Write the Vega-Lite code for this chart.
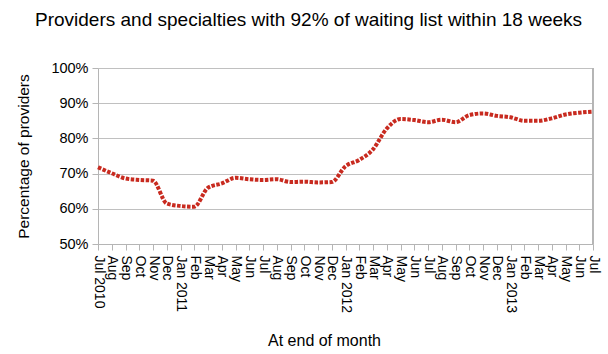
{
  "$schema": "https://vega.github.io/schema/vega-lite/v6.json",
  "width": 495,
  "height": 176,
  "autosize": {"type": "none"},
  "padding": {"left": 98, "top": 68, "right": 15, "bottom": 110},
  "background": "white",
  "title": {
    "text": "Providers and specialties with 92% of waiting list within 18 weeks",
    "font": "Liberation Sans",
    "fontSize": 19,
    "fontWeight": "normal",
    "color": "black",
    "anchor": "middle",
    "frame": "group",
    "dx": -37,
    "offset": 30
  },
  "config": {
    "view": {"stroke": null},
    "axis": {
      "labelFont": "Liberation Sans",
      "titleFont": "Liberation Sans",
      "labelColor": "black",
      "titleColor": "black",
      "domainColor": "#b5b5b5",
      "tickColor": "#b5b5b5",
      "gridColor": "#c0c0c0",
      "titleFontWeight": "normal"
    }
  },
  "data": {
    "values": [
      {"month": "Jul 2010", "pct": 71.8},
      {"month": "Aug", "pct": 70.1},
      {"month": "Sep", "pct": 68.6},
      {"month": "Oct", "pct": 68.2},
      {"month": "Nov", "pct": 68.0},
      {"month": "Dec", "pct": 61.5},
      {"month": "Jan 2011", "pct": 60.8},
      {"month": "Feb", "pct": 60.6},
      {"month": "Mar", "pct": 66.0},
      {"month": "Apr", "pct": 67.2},
      {"month": "May", "pct": 68.8},
      {"month": "Jun", "pct": 68.4},
      {"month": "Jul", "pct": 68.2},
      {"month": "Aug ", "pct": 68.4},
      {"month": "Sep ", "pct": 67.6},
      {"month": "Oct ", "pct": 67.7},
      {"month": "Nov ", "pct": 67.5},
      {"month": "Dec ", "pct": 67.6},
      {"month": "Jan 2012", "pct": 72.1},
      {"month": "Feb ", "pct": 73.9},
      {"month": "Mar ", "pct": 76.9},
      {"month": "Apr ", "pct": 82.8},
      {"month": "May ", "pct": 85.5},
      {"month": "Jun ", "pct": 85.2},
      {"month": "Jul ", "pct": 84.6},
      {"month": "Aug  ", "pct": 85.3},
      {"month": "Sep  ", "pct": 84.6},
      {"month": "Oct  ", "pct": 86.6},
      {"month": "Nov  ", "pct": 87.1},
      {"month": "Dec  ", "pct": 86.4},
      {"month": "Jan 2013", "pct": 86.0},
      {"month": "Feb  ", "pct": 85.0},
      {"month": "Mar  ", "pct": 85.0},
      {"month": "Apr  ", "pct": 85.7},
      {"month": "May  ", "pct": 86.8},
      {"month": "Jun  ", "pct": 87.3},
      {"month": "Jul  ", "pct": 87.6}
    ]
  },
  "layer": [
    {
      "mark": {"type": "rule", "color": "#b5b5b5", "strokeWidth": 1},
      "encoding": {"x": {"value": 495}}
    },
    {
      "mark": {
        "type": "line",
        "interpolate": "monotone",
        "color": "#c82a1f",
        "strokeWidth": 4,
        "strokeDash": [3.5, 1.5],
        "strokeCap": "butt"
      },
      "encoding": {
        "x": {
          "field": "month",
          "type": "ordinal",
          "sort": null,
          "scale": {"type": "point", "padding": 0},
          "axis": {
            "title": "At end of month",
            "titleFontSize": 16,
            "titlePadding": 20,
            "titleX": 226,
            "labelFontSize": 14,
            "labelAngle": 90,
            "labelPadding": 5,
            "tickSize": 6,
            "labelOverlap": false
          }
        },
        "y": {
          "field": "pct",
          "type": "quantitative",
          "scale": {"domain": [50, 100], "nice": false},
          "axis": {
            "title": "Percentage of providers",
            "titleFontSize": 15.5,
            "titlePadding": 19,
            "values": [50, 60, 70, 80, 90, 100],
            "labelExpr": "datum.value + '%'",
            "labelFontSize": 14.5,
            "tickSize": 6,
            "labelPadding": 4
          }
        }
      }
    }
  ]
}
